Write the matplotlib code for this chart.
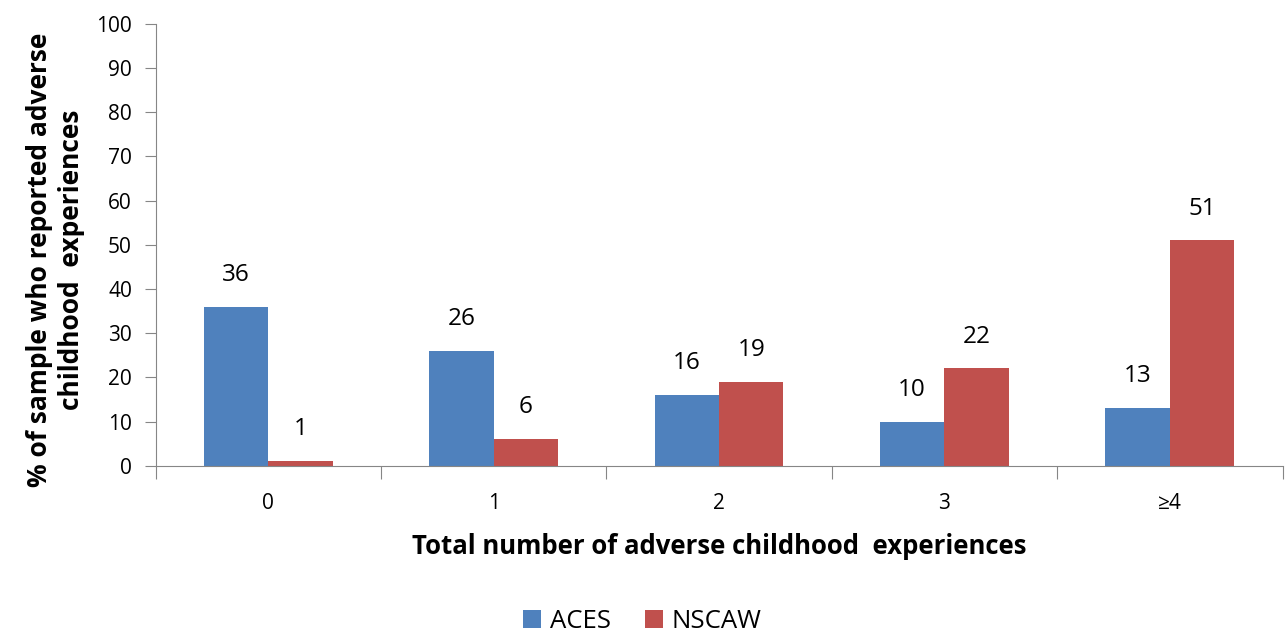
import matplotlib
matplotlib.use("Agg")
import matplotlib.pyplot as plt
import numpy as np

categories = ["0", "1", "2", "3", "\u22654"]
aces = [36, 26, 16, 10, 13]
nscaw = [1, 6, 19, 22, 51]

plt.rcParams['font.family'] = ['Open Sans', 'DejaVu Sans']

blue = "#4f81bd"
red = "#c0504d"
grey = "#868686"

fig = plt.figure(figsize=(12.85, 6.34), dpi=100)
ax = fig.add_axes([155.5 / 1285, 0.2655, 1127 / 1285, 0.6967])

x = np.arange(len(categories))
w = 0.286
b1 = ax.bar(x - w / 2, aces, w, color=blue, label="ACES")
b2 = ax.bar(x + w / 2, nscaw, w, color=red, label="NSCAW")

# value labels above each bar
for bars, vals in ((b1, aces), (b2, nscaw)):
    for rect, v in zip(bars, vals):
        ax.text(rect.get_x() + rect.get_width() / 2, v + 4.5, str(v),
                ha="center", va="bottom", fontsize=17.5)

ax.set_xlim(-0.5, len(categories) - 0.5)
ax.set_ylim(0, 100)
ax.set_yticks(range(0, 101, 10))
ax.tick_params(axis="y", labelsize=15, length=8, color=grey, pad=9)

# category labels sit between the boundary ticks
ax.set_xticks(np.arange(len(categories) + 1) - 0.5)
ax.set_xticklabels([])
ax.set_xticks(x, minor=True)
ax.set_xticklabels(categories, minor=True, fontsize=15)
ax.tick_params(axis="x", which="major", length=9, color=grey)
ax.tick_params(axis="x", which="minor", length=0, pad=20)

for s in ("top", "right"):
    ax.spines[s].set_visible(False)
for s in ("left", "bottom"):
    ax.spines[s].set_color(grey)

ax.set_xlabel("Total number of adverse childhood  experiences",
              fontsize=18.5, fontweight="bold", labelpad=13)
ax.set_ylabel("% of sample who reported adverse\nchildhood  experiences",
              fontsize=19, fontweight="bold", labelpad=8, linespacing=1.25,
              y=0.466)

fig.legend(handles=[b1, b2], loc="center", bbox_to_anchor=(0.5, 0.0205),
           ncol=2, frameon=False, fontsize=18.5, handlelength=0.7,
           handleheight=0.7, handletextpad=0.35, columnspacing=1.3)

fig.savefig("out.png", dpi=100)
